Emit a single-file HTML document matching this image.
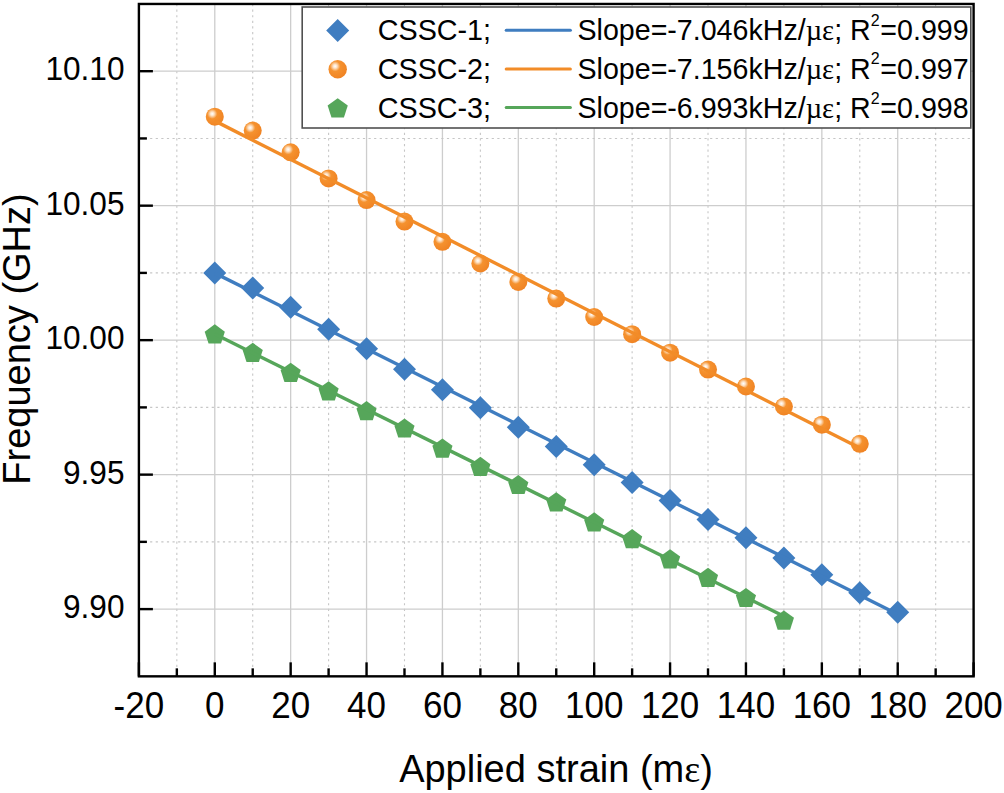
<!DOCTYPE html><html><head><meta charset="utf-8"><style>html,body{margin:0;padding:0;background:#fff;overflow:hidden}svg{display:block}</style></head><body><svg width="1004" height="793" viewBox="0 0 1004 793"><defs><radialGradient id="sph" cx="0.36" cy="0.34" r="0.66" fx="0.36" fy="0.34"><stop offset="0" stop-color="#ffffff"/><stop offset="0.16" stop-color="#fde3c8"/><stop offset="0.42" stop-color="#f5922f"/><stop offset="1" stop-color="#f08424"/></radialGradient></defs><rect width="1004" height="793" fill="#fff"/><line x1="214.78" y1="3.96" x2="214.78" y2="676.34" stroke="#cdcdcd" stroke-width="1.3"/><line x1="290.66" y1="3.96" x2="290.66" y2="676.34" stroke="#cdcdcd" stroke-width="1.3"/><line x1="366.55" y1="3.96" x2="366.55" y2="676.34" stroke="#cdcdcd" stroke-width="1.3"/><line x1="442.43" y1="3.96" x2="442.43" y2="676.34" stroke="#cdcdcd" stroke-width="1.3"/><line x1="518.31" y1="3.96" x2="518.31" y2="676.34" stroke="#cdcdcd" stroke-width="1.3"/><line x1="594.19" y1="3.96" x2="594.19" y2="676.34" stroke="#cdcdcd" stroke-width="1.3"/><line x1="670.07" y1="3.96" x2="670.07" y2="676.34" stroke="#cdcdcd" stroke-width="1.3"/><line x1="745.95" y1="3.96" x2="745.95" y2="676.34" stroke="#cdcdcd" stroke-width="1.3"/><line x1="821.84" y1="3.96" x2="821.84" y2="676.34" stroke="#cdcdcd" stroke-width="1.3"/><line x1="897.72" y1="3.96" x2="897.72" y2="676.34" stroke="#cdcdcd" stroke-width="1.3"/><line x1="176.84" y1="3.96" x2="176.84" y2="676.34" stroke="#c6c6c6" stroke-width="1.1" stroke-dasharray="2.2 3.4"/><line x1="252.72" y1="3.96" x2="252.72" y2="676.34" stroke="#c6c6c6" stroke-width="1.1" stroke-dasharray="2.2 3.4"/><line x1="328.60" y1="3.96" x2="328.60" y2="676.34" stroke="#c6c6c6" stroke-width="1.1" stroke-dasharray="2.2 3.4"/><line x1="404.49" y1="3.96" x2="404.49" y2="676.34" stroke="#c6c6c6" stroke-width="1.1" stroke-dasharray="2.2 3.4"/><line x1="480.37" y1="3.96" x2="480.37" y2="676.34" stroke="#c6c6c6" stroke-width="1.1" stroke-dasharray="2.2 3.4"/><line x1="556.25" y1="3.96" x2="556.25" y2="676.34" stroke="#c6c6c6" stroke-width="1.1" stroke-dasharray="2.2 3.4"/><line x1="632.13" y1="3.96" x2="632.13" y2="676.34" stroke="#c6c6c6" stroke-width="1.1" stroke-dasharray="2.2 3.4"/><line x1="708.01" y1="3.96" x2="708.01" y2="676.34" stroke="#c6c6c6" stroke-width="1.1" stroke-dasharray="2.2 3.4"/><line x1="783.90" y1="3.96" x2="783.90" y2="676.34" stroke="#c6c6c6" stroke-width="1.1" stroke-dasharray="2.2 3.4"/><line x1="859.78" y1="3.96" x2="859.78" y2="676.34" stroke="#c6c6c6" stroke-width="1.1" stroke-dasharray="2.2 3.4"/><line x1="935.66" y1="3.96" x2="935.66" y2="676.34" stroke="#c6c6c6" stroke-width="1.1" stroke-dasharray="2.2 3.4"/><line x1="138.90" y1="609.10" x2="973.60" y2="609.10" stroke="#cdcdcd" stroke-width="1.3"/><line x1="138.90" y1="474.63" x2="973.60" y2="474.63" stroke="#cdcdcd" stroke-width="1.3"/><line x1="138.90" y1="340.15" x2="973.60" y2="340.15" stroke="#cdcdcd" stroke-width="1.3"/><line x1="138.90" y1="205.67" x2="973.60" y2="205.67" stroke="#cdcdcd" stroke-width="1.3"/><line x1="138.90" y1="71.20" x2="973.60" y2="71.20" stroke="#cdcdcd" stroke-width="1.3"/><line x1="138.90" y1="541.86" x2="973.60" y2="541.86" stroke="#c6c6c6" stroke-width="1.1" stroke-dasharray="2.2 3.4"/><line x1="138.90" y1="407.39" x2="973.60" y2="407.39" stroke="#c6c6c6" stroke-width="1.1" stroke-dasharray="2.2 3.4"/><line x1="138.90" y1="272.91" x2="973.60" y2="272.91" stroke="#c6c6c6" stroke-width="1.1" stroke-dasharray="2.2 3.4"/><line x1="138.90" y1="138.44" x2="973.60" y2="138.44" stroke="#c6c6c6" stroke-width="1.1" stroke-dasharray="2.2 3.4"/><circle cx="214.78" cy="116.70" r="9.0" fill="url(#sph)"/><circle cx="252.72" cy="130.60" r="9.0" fill="url(#sph)"/><circle cx="290.66" cy="152.30" r="9.0" fill="url(#sph)"/><circle cx="328.60" cy="178.40" r="9.0" fill="url(#sph)"/><circle cx="366.55" cy="200.10" r="9.0" fill="url(#sph)"/><circle cx="404.49" cy="221.60" r="9.0" fill="url(#sph)"/><circle cx="442.43" cy="241.80" r="9.0" fill="url(#sph)"/><circle cx="480.37" cy="263.50" r="9.0" fill="url(#sph)"/><circle cx="518.31" cy="281.90" r="9.0" fill="url(#sph)"/><circle cx="556.25" cy="298.60" r="9.0" fill="url(#sph)"/><circle cx="594.19" cy="317.00" r="9.0" fill="url(#sph)"/><circle cx="632.13" cy="334.20" r="9.0" fill="url(#sph)"/><circle cx="670.07" cy="352.70" r="9.0" fill="url(#sph)"/><circle cx="708.01" cy="369.60" r="9.0" fill="url(#sph)"/><circle cx="745.95" cy="386.50" r="9.0" fill="url(#sph)"/><circle cx="783.90" cy="406.50" r="9.0" fill="url(#sph)"/><circle cx="821.84" cy="424.70" r="9.0" fill="url(#sph)"/><circle cx="859.78" cy="443.80" r="9.0" fill="url(#sph)"/><line x1="214.78" y1="120.89" x2="859.78" y2="448.05" stroke="#f28c28" stroke-width="3.4"/><path d="M214.78 261.40L226.28 272.90L214.78 284.40L203.28 272.90Z" fill="#3f7dc0"/><path d="M252.72 276.50L264.22 288.00L252.72 299.50L241.22 288.00Z" fill="#3f7dc0"/><path d="M290.66 295.80L302.16 307.30L290.66 318.80L279.16 307.30Z" fill="#3f7dc0"/><path d="M328.60 317.70L340.10 329.20L328.60 340.70L317.10 329.20Z" fill="#3f7dc0"/><path d="M366.55 337.20L378.05 348.70L366.55 360.20L355.05 348.70Z" fill="#3f7dc0"/><path d="M404.49 357.80L415.99 369.30L404.49 380.80L392.99 369.30Z" fill="#3f7dc0"/><path d="M442.43 378.30L453.93 389.80L442.43 401.30L430.93 389.80Z" fill="#3f7dc0"/><path d="M480.37 396.20L491.87 407.70L480.37 419.20L468.87 407.70Z" fill="#3f7dc0"/><path d="M518.31 415.80L529.81 427.30L518.31 438.80L506.81 427.30Z" fill="#3f7dc0"/><path d="M556.25 435.10L567.75 446.60L556.25 458.10L544.75 446.60Z" fill="#3f7dc0"/><path d="M594.19 453.20L605.69 464.70L594.19 476.20L582.69 464.70Z" fill="#3f7dc0"/><path d="M632.13 471.10L643.63 482.60L632.13 494.10L620.63 482.60Z" fill="#3f7dc0"/><path d="M670.07 488.90L681.57 500.40L670.07 511.90L658.57 500.40Z" fill="#3f7dc0"/><path d="M708.01 508.00L719.51 519.50L708.01 531.00L696.51 519.50Z" fill="#3f7dc0"/><path d="M745.95 526.30L757.45 537.80L745.95 549.30L734.45 537.80Z" fill="#3f7dc0"/><path d="M783.90 546.40L795.40 557.90L783.90 569.40L772.40 557.90Z" fill="#3f7dc0"/><path d="M821.84 563.30L833.34 574.80L821.84 586.30L810.34 574.80Z" fill="#3f7dc0"/><path d="M859.78 581.20L871.28 592.70L859.78 604.20L848.28 592.70Z" fill="#3f7dc0"/><path d="M897.72 600.70L909.22 612.20L897.72 623.70L886.22 612.20Z" fill="#3f7dc0"/><line x1="214.78" y1="273.11" x2="897.72" y2="614.20" stroke="#3f7dc0" stroke-width="3.4"/><path d="M214.78 324.31L224.86 331.64L221.01 343.49L208.55 343.49L204.70 331.64Z" fill="#56a65a"/><path d="M252.72 342.71L262.80 350.04L258.95 361.89L246.49 361.89L242.64 350.04Z" fill="#56a65a"/><path d="M290.66 362.71L300.74 370.04L296.89 381.89L284.43 381.89L280.58 370.04Z" fill="#56a65a"/><path d="M328.60 381.21L338.69 388.54L334.84 400.39L322.37 400.39L318.52 388.54Z" fill="#56a65a"/><path d="M366.55 401.11L376.63 408.44L372.78 420.29L360.31 420.29L356.46 408.44Z" fill="#56a65a"/><path d="M404.49 418.41L414.57 425.74L410.72 437.59L398.26 437.59L394.41 425.74Z" fill="#56a65a"/><path d="M442.43 438.51L452.51 445.84L448.66 457.69L436.20 457.69L432.35 445.84Z" fill="#56a65a"/><path d="M480.37 456.81L490.45 464.14L486.60 475.99L474.14 475.99L470.29 464.14Z" fill="#56a65a"/><path d="M518.31 474.91L528.39 482.24L524.54 494.09L512.08 494.09L508.23 482.24Z" fill="#56a65a"/><path d="M556.25 492.21L566.33 499.54L562.48 511.39L550.02 511.39L546.17 499.54Z" fill="#56a65a"/><path d="M594.19 512.31L604.27 519.64L600.42 531.49L587.96 531.49L584.11 519.64Z" fill="#56a65a"/><path d="M632.13 529.11L642.21 536.44L638.36 548.29L625.90 548.29L622.05 536.44Z" fill="#56a65a"/><path d="M670.07 549.21L680.15 556.54L676.30 568.39L663.84 568.39L659.99 556.54Z" fill="#56a65a"/><path d="M708.01 567.71L718.09 575.04L714.24 586.89L701.78 586.89L697.93 575.04Z" fill="#56a65a"/><path d="M745.95 587.91L756.04 595.24L752.19 607.09L739.72 607.09L735.87 595.24Z" fill="#56a65a"/><path d="M783.90 610.51L793.98 617.84L790.13 629.69L777.66 629.69L773.81 617.84Z" fill="#56a65a"/><line x1="214.78" y1="334.10" x2="783.90" y2="616.29" stroke="#56a65a" stroke-width="3.4"/><rect x="138.90" y="3.96" width="834.70" height="672.38" fill="none" stroke="#000" stroke-width="2.4"/><line x1="138.90" y1="676.34" x2="138.90" y2="662.34" stroke="#000" stroke-width="2.4"/><line x1="214.78" y1="676.34" x2="214.78" y2="662.34" stroke="#000" stroke-width="2.4"/><line x1="290.66" y1="676.34" x2="290.66" y2="662.34" stroke="#000" stroke-width="2.4"/><line x1="366.55" y1="676.34" x2="366.55" y2="662.34" stroke="#000" stroke-width="2.4"/><line x1="442.43" y1="676.34" x2="442.43" y2="662.34" stroke="#000" stroke-width="2.4"/><line x1="518.31" y1="676.34" x2="518.31" y2="662.34" stroke="#000" stroke-width="2.4"/><line x1="594.19" y1="676.34" x2="594.19" y2="662.34" stroke="#000" stroke-width="2.4"/><line x1="670.07" y1="676.34" x2="670.07" y2="662.34" stroke="#000" stroke-width="2.4"/><line x1="745.95" y1="676.34" x2="745.95" y2="662.34" stroke="#000" stroke-width="2.4"/><line x1="821.84" y1="676.34" x2="821.84" y2="662.34" stroke="#000" stroke-width="2.4"/><line x1="897.72" y1="676.34" x2="897.72" y2="662.34" stroke="#000" stroke-width="2.4"/><line x1="973.60" y1="676.34" x2="973.60" y2="662.34" stroke="#000" stroke-width="2.4"/><line x1="176.84" y1="676.34" x2="176.84" y2="668.34" stroke="#000" stroke-width="2.4"/><line x1="252.72" y1="676.34" x2="252.72" y2="668.34" stroke="#000" stroke-width="2.4"/><line x1="328.60" y1="676.34" x2="328.60" y2="668.34" stroke="#000" stroke-width="2.4"/><line x1="404.49" y1="676.34" x2="404.49" y2="668.34" stroke="#000" stroke-width="2.4"/><line x1="480.37" y1="676.34" x2="480.37" y2="668.34" stroke="#000" stroke-width="2.4"/><line x1="556.25" y1="676.34" x2="556.25" y2="668.34" stroke="#000" stroke-width="2.4"/><line x1="632.13" y1="676.34" x2="632.13" y2="668.34" stroke="#000" stroke-width="2.4"/><line x1="708.01" y1="676.34" x2="708.01" y2="668.34" stroke="#000" stroke-width="2.4"/><line x1="783.90" y1="676.34" x2="783.90" y2="668.34" stroke="#000" stroke-width="2.4"/><line x1="859.78" y1="676.34" x2="859.78" y2="668.34" stroke="#000" stroke-width="2.4"/><line x1="935.66" y1="676.34" x2="935.66" y2="668.34" stroke="#000" stroke-width="2.4"/><line x1="138.90" y1="609.10" x2="152.90" y2="609.10" stroke="#000" stroke-width="2.4"/><line x1="138.90" y1="474.63" x2="152.90" y2="474.63" stroke="#000" stroke-width="2.4"/><line x1="138.90" y1="340.15" x2="152.90" y2="340.15" stroke="#000" stroke-width="2.4"/><line x1="138.90" y1="205.67" x2="152.90" y2="205.67" stroke="#000" stroke-width="2.4"/><line x1="138.90" y1="71.20" x2="152.90" y2="71.20" stroke="#000" stroke-width="2.4"/><line x1="138.90" y1="541.86" x2="146.90" y2="541.86" stroke="#000" stroke-width="2.4"/><line x1="138.90" y1="407.39" x2="146.90" y2="407.39" stroke="#000" stroke-width="2.4"/><line x1="138.90" y1="272.91" x2="146.90" y2="272.91" stroke="#000" stroke-width="2.4"/><line x1="138.90" y1="138.44" x2="146.90" y2="138.44" stroke="#000" stroke-width="2.4"/><g fill="#000"><text transform="translate(138.90 718.00) scale(1 1.04)" text-anchor="middle" font-family="Liberation Sans, sans-serif" font-size="35" >-20</text><text transform="translate(214.78 718.00) scale(1 1.04)" text-anchor="middle" font-family="Liberation Sans, sans-serif" font-size="35" >0</text><text transform="translate(290.66 718.00) scale(1 1.04)" text-anchor="middle" font-family="Liberation Sans, sans-serif" font-size="35" >20</text><text transform="translate(366.55 718.00) scale(1 1.04)" text-anchor="middle" font-family="Liberation Sans, sans-serif" font-size="35" >40</text><text transform="translate(442.43 718.00) scale(1 1.04)" text-anchor="middle" font-family="Liberation Sans, sans-serif" font-size="35" >60</text><text transform="translate(518.31 718.00) scale(1 1.04)" text-anchor="middle" font-family="Liberation Sans, sans-serif" font-size="35" >80</text><text transform="translate(594.19 718.00) scale(1 1.04)" text-anchor="middle" font-family="Liberation Sans, sans-serif" font-size="35" >100</text><text transform="translate(670.07 718.00) scale(1 1.04)" text-anchor="middle" font-family="Liberation Sans, sans-serif" font-size="35" >120</text><text transform="translate(745.95 718.00) scale(1 1.04)" text-anchor="middle" font-family="Liberation Sans, sans-serif" font-size="35" >140</text><text transform="translate(821.84 718.00) scale(1 1.04)" text-anchor="middle" font-family="Liberation Sans, sans-serif" font-size="35" >160</text><text transform="translate(897.72 718.00) scale(1 1.04)" text-anchor="middle" font-family="Liberation Sans, sans-serif" font-size="35" >180</text><text transform="translate(973.60 718.00) scale(1 1.04)" text-anchor="middle" font-family="Liberation Sans, sans-serif" font-size="35" >200</text><text transform="translate(124.50 618.10) scale(1 1.04)" text-anchor="end" font-family="Liberation Sans, sans-serif" font-size="31.6" >9.90</text><text transform="translate(124.50 483.63) scale(1 1.04)" text-anchor="end" font-family="Liberation Sans, sans-serif" font-size="31.6" >9.95</text><text transform="translate(124.50 349.15) scale(1 1.04)" text-anchor="end" font-family="Liberation Sans, sans-serif" font-size="31.6" >10.00</text><text transform="translate(124.50 214.67) scale(1 1.04)" text-anchor="end" font-family="Liberation Sans, sans-serif" font-size="31.6" >10.05</text><text transform="translate(124.50 80.20) scale(1 1.04)" text-anchor="end" font-family="Liberation Sans, sans-serif" font-size="31.6" >10.10</text></g><text transform="translate(556.00 781.50) scale(1 1.0)" text-anchor="middle" font-family="Liberation Sans, sans-serif" font-size="38" >Applied strain (m<tspan font-family="Liberation Serif, serif">&#949;</tspan>)</text><text transform="translate(30.3 339) rotate(-90)" text-anchor="middle" font-family="Liberation Sans, sans-serif" font-size="38">Frequency (GHz)</text><rect x="302.2" y="7.0" width="668.6" height="121" fill="#fff" stroke="#505050" stroke-width="1.6"/><path d="M337.70 19.00L349.20 30.50L337.70 42.00L326.20 30.50Z" fill="#3f7dc0"/><line x1="506.2" y1="30.30" x2="570.4" y2="30.30" stroke="#3f7dc0" stroke-width="3.0" stroke-linecap="round"/><text transform="translate(377.80 39.80) scale(1 1.06)" text-anchor="start" font-family="Liberation Sans, sans-serif" font-size="28.7" >CSSC-1;</text><text transform="translate(577.50 39.80) scale(1 1.06)" text-anchor="start" font-family="Liberation Sans, sans-serif" font-size="28.6" >Slope=-7.046kHz/<tspan font-family="Liberation Serif, serif">&#181;&#949;</tspan>; R<tspan font-size="16" dy="-13.3">2</tspan><tspan dy="13.3" dx="0.8">=</tspan>0.999</text><circle cx="337.70" cy="69.20" r="9.2" fill="url(#sph)"/><line x1="506.2" y1="69.00" x2="570.4" y2="69.00" stroke="#f28c28" stroke-width="3.0" stroke-linecap="round"/><text transform="translate(377.80 78.50) scale(1 1.06)" text-anchor="start" font-family="Liberation Sans, sans-serif" font-size="28.7" >CSSC-2;</text><text transform="translate(577.50 78.50) scale(1 1.06)" text-anchor="start" font-family="Liberation Sans, sans-serif" font-size="28.6" >Slope=-7.156kHz/<tspan font-family="Liberation Serif, serif">&#181;&#949;</tspan>; R<tspan font-size="16" dy="-13.3">2</tspan><tspan dy="13.3" dx="0.8">=</tspan>0.997</text><path d="M337.70 98.21L347.78 105.54L343.93 117.39L331.47 117.39L327.62 105.54Z" fill="#56a65a"/><line x1="506.2" y1="107.60" x2="570.4" y2="107.60" stroke="#56a65a" stroke-width="3.0" stroke-linecap="round"/><text transform="translate(377.80 117.90) scale(1 1.06)" text-anchor="start" font-family="Liberation Sans, sans-serif" font-size="28.7" >CSSC-3;</text><text transform="translate(577.50 117.90) scale(1 1.06)" text-anchor="start" font-family="Liberation Sans, sans-serif" font-size="28.6" >Slope=-6.993kHz/<tspan font-family="Liberation Serif, serif">&#181;&#949;</tspan>; R<tspan font-size="16" dy="-13.3">2</tspan><tspan dy="13.3" dx="0.8">=</tspan>0.998</text></svg></body></html>
